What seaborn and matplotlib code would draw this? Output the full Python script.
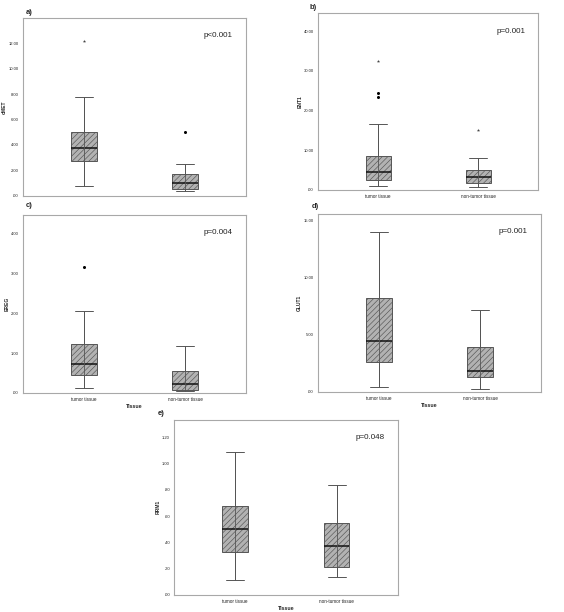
import seaborn as sns
import matplotlib.pyplot as plt
import pandas as pd

groups = ["tumor tissue", "non-tumor tissue"]

# five-number summaries: low whisker, Q1, median, Q3, high whisker
cmet_tumor = [0.75, 2.7, 3.8, 5.0, 7.8]
cmet_non = [0.35, 0.5, 1.0, 1.75, 2.5]
ent1_tumor = [1.0, 2.5, 4.6, 8.5, 16.5]
ent1_non = [0.8, 1.6, 3.2, 5.0, 7.9]
ereg_tumor = [0.12, 0.45, 0.73, 1.23, 2.05]
ereg_non = [0.04, 0.08, 0.22, 0.55, 1.18]
glut1_tumor = [0.45, 2.6, 4.5, 8.2, 14.0]
glut1_non = [0.25, 1.35, 1.85, 3.95, 7.2]
rrm1_tumor = [0.11, 0.33, 0.50, 0.68, 1.09]
rrm1_non = [0.14, 0.21, 0.375, 0.55, 0.84]

# outliers (circles) and extremes (stars)
cmet_out_tumor, cmet_out_non = [], [5.0]
cmet_ext_tumor, cmet_ext_non = [12.2], []
ent1_out_tumor, ent1_out_non = [23.3, 24.5], []
ent1_ext_tumor, ent1_ext_non = [32.5], [15.2]
ereg_out_tumor, ereg_out_non = [3.17], []
ereg_ext_tumor, ereg_ext_non = [], []

p_values = ["p<0.001", "p=0.001", "p=0.004", "p=0.001", "p=0.048"]
y_names = ["cMET", "ENT1", "EREG", "GLUT1", "RRM1"]
panel_tags = ["a)", "b)", "c)", "d)", "e)"]
y_max = [14.0, 44.5, 4.48, 15.6, 1.335]
y_ticks = [[0, 2, 4, 6, 8, 10, 12], [0, 10, 20, 30, 40], [0, 1, 2, 3, 4],
           [0, 5, 10, 15], [0, .2, .4, .6, .8, 1.0, 1.2]]

sns.set_style("white")
plt.rcParams['font.family'] = ['Liberation Sans', 'DejaVu Sans']
plt.rcParams['hatch.linewidth'] = 0.45


def spss_fmt(v):
    s = "%.2f" % v
    return s[1:] if s.startswith("0") else s


def long_df(a, b):
    return pd.DataFrame({"Tissue": [groups[0]] * len(a) + [groups[1]] * len(b),
                         "value": list(a) + list(b)})


fig = plt.figure(figsize=(5.64, 6.12), dpi=100)

rects = [[0.041, 0.680, 0.395, 0.291],
         [0.564, 0.690, 0.390, 0.288],
         [0.041, 0.358, 0.395, 0.291],
         [0.564, 0.3595, 0.395, 0.291],
         [0.309, 0.028, 0.396, 0.286]]
tag_pos = [(0.046, 0.980), (0.548, 0.987), (0.046, 0.665), (0.553, 0.662), (0.280, 0.325)]

summaries = [(cmet_tumor, cmet_non), (ent1_tumor, ent1_non), (ereg_tumor, ereg_non),
             (glut1_tumor, glut1_non), (rrm1_tumor, rrm1_non)]
outs = [(cmet_out_tumor, cmet_out_non), (ent1_out_tumor, ent1_out_non),
        (ereg_out_tumor, ereg_out_non), ([], []), ([], [])]
exts = [(cmet_ext_tumor, cmet_ext_non), (ent1_ext_tumor, ent1_ext_non),
        (ereg_ext_tumor, ereg_ext_non), ([], []), ([], [])]

edge = "#555555"
box_kw = dict(x="Tissue", y="value", order=groups, whis=(0, 100),
              width=0.25, color="#b2b2b2", saturation=1, linecolor=edge,
              linewidth=0.7, medianprops=dict(color="#111111", linewidth=1.1))

for i in range(5):
    ax = fig.add_axes(rects[i])
    t, n = summaries[i]
    df = long_df(t, n)
    try:
        sns.boxplot(data=df, ax=ax, capwidths=0.18, **box_kw)
    except TypeError:
        ax.cla()
        sns.boxplot(data=df, ax=ax, **box_kw)
    for p in ax.patches:
        p.set_hatch("//////")
    # SPSS draws the whisker line straight through the box
    ax.vlines([0, 1], [t[0], n[0]], [t[-1], n[-1]], color=edge, linewidth=0.6, zorder=4)

    o_t, o_n = outs[i]
    if o_t or o_n:
        sns.stripplot(data=long_df(o_t, o_n), x="Tissue", y="value", order=groups,
                      jitter=False, marker="o", size=2.2, color="black", ax=ax)
    e_t, e_n = exts[i]
    if e_t or e_n:
        sns.stripplot(data=long_df(e_t, e_n), x="Tissue", y="value", order=groups,
                      jitter=False, marker="*", size=2.5, color="#444444", ax=ax)

    ax.set_xlim(-0.6, 1.6)
    ax.set_ylim(0, y_max[i])
    ax.set_yticks(y_ticks[i])
    ax.set_yticklabels([spss_fmt(v) for v in y_ticks[i]])
    ax.set_xticks([0, 1])
    if i == 0:
        ax.set_xticklabels(["", ""])
    else:
        ax.set_xticklabels(groups)
    ax.tick_params(axis="both", length=2, width=0.5, color="#777777",
                   labelsize=3, pad=1.2, labelcolor="#222222")
    ax.tick_params(axis="x", labelsize=3.3)
    ax.set_ylabel(y_names[i], fontsize=3.6, fontweight="bold", labelpad=1)
    if i >= 2:
        ax.set_xlabel("Tissue", fontsize=3.8, fontweight="bold", labelpad=1)
    else:
        ax.set_xlabel("")
    for s in ax.spines.values():
        s.set_color("#a8a8a8")
        s.set_linewidth(0.8)
    ax.text(0.81, 0.90, p_values[i], transform=ax.transAxes, fontsize=5.8,
            va="center", ha="left", color="#222222")
    fig.text(tag_pos[i][0], tag_pos[i][1], panel_tags[i], fontsize=5.5,
             fontweight="bold", va="center", ha="left")

fig.savefig("out.png", dpi=100)
